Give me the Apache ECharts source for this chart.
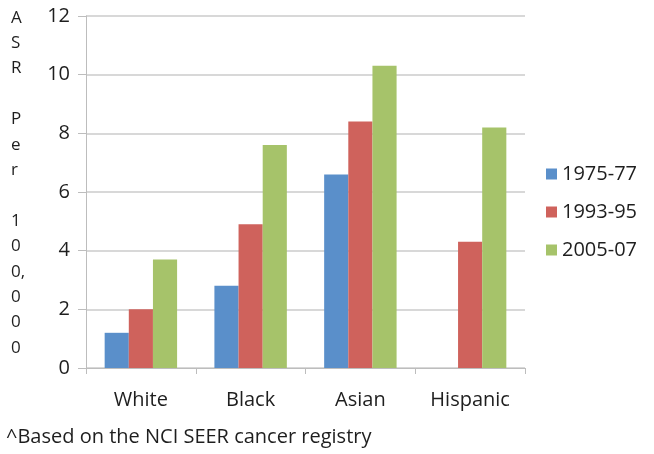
<!DOCTYPE html>
<html>
<head>
<meta charset="utf-8">
<script src="https://cdn.jsdelivr.net/npm/echarts@6/dist/echarts.min.js"></script>
<style>
  html, body { margin: 0; padding: 0; background: #fff; }
  #chart { width: 654px; height: 454px; }
</style>
</head>
<body>
<div id="chart"></div>
<script>
// Age-standardised rates per 100,000 by group and period
const categories = ['White', 'Black', 'Asian', 'Hispanic'];
const periods = ['1975-77', '1993-95', '2005-07'];
const rates1975 = [1.2, 2.8, 6.6, null];
const rates1993 = [2.0, 4.9, 8.4, 4.3];
const rates2005 = [3.7, 7.6, 10.3, 8.2];
const yTicks = [0, 2, 4, 6, 8, 10, 12];
const footnote = '^Based on the NCI SEER cancer registry';

const colors = ['#5a8fca', '#cf625c', '#a6c36a'];
const font = '"Open Sans", Lato, sans-serif';
const textColor = '#1e1e1e';

// Vertical stacked axis title: one character per line, blank line between words
const yTitleLines = ['A', 'S', 'R', '', 'P', 'e', 'r', '', '1', '0', '0,', '0', '0', '0'];

const chart = echarts.init(document.getElementById('chart'));
chart.setOption({
  animation: false,
  color: colors,
  grid: { left: 86, right: 129, top: 16, bottom: 86, containLabel: false },
  legend: {
    orient: 'vertical',
    left: 541,
    top: 159,
    itemWidth: 11,
    itemHeight: 11,
    itemGap: 18,
    icon: 'rect',
    textStyle: { fontFamily: font, fontSize: 20, color: textColor },
    data: periods
  },
  xAxis: {
    type: 'category',
    data: categories,
    axisLine: { lineStyle: { color: '#bdbdbd', width: 1 } },
    axisTick: { show: true, length: 6, alignWithLabel: false, lineStyle: { color: '#bdbdbd' } },
    axisLabel: { fontFamily: font, fontSize: 20, color: textColor, margin: 22 }
  },
  yAxis: {
    type: 'value',
    min: yTicks[0],
    max: yTicks[yTicks.length - 1],
    interval: 2,
    axisLine: { show: true, lineStyle: { color: '#bdbdbd', width: 1 } },
    axisTick: { show: true, inside: false, length: 8, lineStyle: { color: '#bdbdbd' } },
    splitLine: { lineStyle: { color: '#cbcbcb', width: 1.5 } },
    axisLabel: { fontFamily: font, fontSize: 20, color: textColor, margin: 16 }
  },
  graphic: [
    {
      type: 'text',
      left: 11,
      top: 5,
      style: {
        text: yTitleLines.join('\n'),
        font: '17px ' + font,
        fill: textColor,
        lineHeight: 25.4,
        align: 'center'
      }
    },
    {
      type: 'text',
      left: 6,
      top: 427,
      style: {
        text: footnote,
        font: '20px ' + font,
        fill: textColor
      }
    }
  ],
  series: [
    { name: periods[0], type: 'bar', data: rates1975, barGap: '0%', barCategoryGap: '34%' },
    { name: periods[1], type: 'bar', data: rates1993, barGap: '0%', barCategoryGap: '34%' },
    { name: periods[2], type: 'bar', data: rates2005, barGap: '0%', barCategoryGap: '34%' }
  ]
});
</script>
</body>
</html>
